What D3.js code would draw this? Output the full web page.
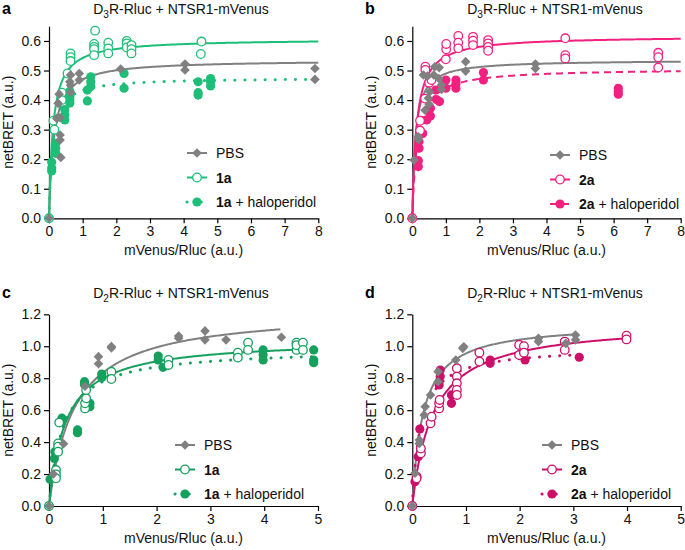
<!DOCTYPE html>
<html><head><meta charset="utf-8">
<script src="https://cdn.jsdelivr.net/npm/d3@7"></script>
<style>body{margin:0;background:#fff}svg{display:block}text{font-family:"Liberation Sans",Arial,sans-serif}</style>
</head><body><svg id="c" width="685" height="550"></svg>
<script>
// ---------- data ----------
const aPBS=[[0,0],[0.27,0.389],[0.30,0.42],[0.23,0.338],[0.33,0.34],[0.33,0.282],[0.33,0.265],[0.35,0.206],[0.62,0.462],[0.64,0.485],[0.64,0.426],[0.64,0.45],[0.9,0.49],[0.9,0.468],[2.13,0.505],[4.04,0.522],[4.04,0.502],[7.9,0.507],[7.9,0.47]];
const a1a=[[0,0],[0.13,0.33],[0.16,0.30],[0.38,0.425],[0.38,0.40],[0.55,0.49],[0.64,0.558],[0.64,0.545],[0.64,0.532],[1.34,0.59],[1.37,0.635],[1.34,0.58],[1.34,0.572],[1.34,0.552],[1.76,0.594],[1.76,0.575],[1.76,0.558],[2.31,0.6],[2.31,0.592],[2.31,0.578],[2.45,0.586],[2.45,0.572],[2.45,0.558],[4.53,0.598],[4.51,0.556]];
const aHalo=[[0,0],[0.08,0.19],[0.08,0.17],[0.08,0.16],[0.2,0.254],[0.2,0.237],[0.2,0.22],[0.47,0.368],[0.47,0.35],[0.47,0.333],[0.62,0.43],[0.62,0.412],[0.62,0.40],[0.62,0.39],[1.24,0.479],[1.24,0.462],[1.24,0.446],[1.14,0.434],[1.14,0.397],[2.23,0.49],[2.23,0.44],[4.43,0.462],[4.43,0.425],[4.43,0.417],[4.8,0.473],[4.8,0.462],[4.8,0.448]];
const bPBS=[[0,0],[0.05,0.197],[0.18,0.276],[0.18,0.267],[0.33,0.485],[0.38,0.366],[0.45,0.481],[0.48,0.406],[0.5,0.386],[0.52,0.428],[0.67,0.513],[0.64,0.485],[0.8,0.51],[0.79,0.473],[0.87,0.451],[0.87,0.436],[1.59,0.53],[1.59,0.498],[3.67,0.522],[3.67,0.507]];
const b2a=[[0,0],[0.23,0.33],[0.23,0.297],[0.38,0.405],[0.39,0.513],[0.39,0.502],[0.5,0.459],[0.57,0.468],[1,0.538],[1.01,0.572],[1.01,0.59],[1.37,0.617],[1.37,0.594],[1.37,0.575],[1.81,0.614],[1.81,0.601],[1.81,0.586],[2.26,0.603],[2.26,0.592],[2.26,0.58],[2.26,0.567],[4.56,0.609],[4.56,0.552],[4.56,0.541],[7.33,0.56],[7.33,0.545],[7.33,0.51]];
const bHalo=[[0,0],[0.18,0.195],[0.18,0.175],[0.2,0.237],[0.2,0.26],[0.31,0.287],[0.43,0.333],[0.45,0.366],[0.49,0.457],[0.54,0.346],[0.54,0.372],[0.7,0.434],[0.72,0.402],[0.81,0.395],[1,0.468],[1,0.44],[1.3,0.44],[1.3,0.454],[1.3,0.468],[2.12,0.493],[2.12,0.468],[6.14,0.44],[6.14,0.428],[6.14,0.42]];
const cPBS=[[0,0],[0.08,0.2],[0.27,0.39],[0.67,0.75],[0.92,0.935],[0.92,0.89],[1.16,0.998],[1.16,0.99],[2.41,1.064],[2.41,1.05],[2.9,1.096],[2.9,1.04],[3.29,1.04],[4.32,1.056]];
const c1a=[[0,0],[0.13,0.225],[0.13,0.198],[0.13,0.173],[0.17,0.392],[0.17,0.371],[0.17,0.34],[0.19,0.522],[0.67,0.611],[0.67,0.643],[0.69,0.674],[0.69,0.726],[1.16,0.84],[1.16,0.795],[2.22,0.914],[2.22,0.883],[3.51,0.96],[3.51,0.929],[3.7,1.022],[3.7,0.977],[4.6,1.022],[4.6,0.977],[4.6,1.007],[4.72,1.022],[4.72,0.977]];
const cHalo=[[0,0],[0.02,0.167],[0.1,0.298],[0.11,0.34],[0.24,0.55],[0.24,0.535],[0.53,0.476],[0.53,0.459],[0.66,0.778],[0.66,0.76],[0.76,0.643],[0.76,0.622],[0.98,0.826],[0.98,0.805],[2.03,0.939],[2.03,0.914],[2.12,0.868],[3.98,0.977],[3.98,0.945],[3.98,0.914],[4.92,0.977],[4.92,0.914],[4.92,0.897]];
const dPBS=[[0,0],[0.05,0.205],[0.13,0.392],[0.13,0.413],[0.22,0.57],[0.24,0.622],[0.34,0.695],[0.48,0.778],[0.48,0.841],[0.81,0.914],[0.96,0.997],[0.94,0.987],[2.35,1.05],[2.35,1.029],[2.86,1.018],[3.04,1.07],[3.04,1.04]];
const d2a=[[0,0],[0.08,0.184],[0.08,0.173],[0.16,0.33],[0.16,0.36],[0.34,0.518],[0.36,0.559],[0.5,0.611],[0.5,0.643],[0.51,0.664],[0.83,0.862],[0.83,0.81],[0.83,0.768],[0.83,0.726],[0.83,0.695],[1.25,0.96],[1.25,0.904],[1.99,1.008],[1.99,0.945],[2.08,1.0],[2.08,0.96],[2.84,1.029],[2.84,0.977],[3.99,1.066],[3.99,1.043]];
const dHalo=[[0,0],[0.05,0.152],[0.11,0.309],[0.14,0.482],[0.52,0.851],[0.52,0.81],[0.5,0.758],[0.73,0.695],[0.73,0.643],[1.45,0.914],[1.45,0.893],[2.1,0.914],[3.11,0.931]];
// fitted one-site curves: [Bmax, Kd, xEnd] for PBS, compound, compound+haloperidol
const aFit=[[0.536,0.141,8],[0.607,0.119,8],[0.476,0.10,8]];
const bFit=[[0.536,0.094,8],[0.617,0.127,8],[0.507,0.15,8]];
const cFit=[[1.227,0.471,4.3],[1.044,0.308,4.72],[0.985,0.264,4.95]];
const dFit=[[1.145,0.199,3.05],[1.151,0.386,4.0],[0.994,0.156,3.1]];
const xTicksA=[0,1,2,3,4,5,6,7,8], yTicksA=[0,0.1,0.2,0.3,0.4,0.5,0.6];
const xTicksC=[0,1,2,3,4,5], yTicksC=[0,0.2,0.4,0.6,0.8,1.0,1.2];
const compounds=["1a","2a","1a","2a"];
const letters=["a","b","c","d"];
const receptors=["3","3","2","2"];

// ---------- layout ----------
const svg=d3.select("#c");
const grey="#808080";
const panels=[
 {L:49,R:318.3,B:218.3,T:26.2,xd:8,yd:0.65,xt:xTicksA,yt:yTicksA,fit:aFit,data:[aPBS,a1a,aHalo],col:"#1dbf78",halo:"dot",lx:187,ly:153,letX:2,letY:14,titleX:181,titleY:14,yTitleX:13},
 {L:412.3,R:680.7,B:218.3,T:26.2,xd:8,yd:0.65,xt:xTicksA,yt:yTicksA,fit:bFit,data:[bPBS,b2a,bHalo],col:"#f2207f",halo:"dash",lx:550,ly:155,letX:365,letY:14,titleX:555,titleY:14,yTitleX:376},
 {L:49,R:318,B:506,T:314.3,xd:5,yd:1.2,xt:xTicksC,yt:yTicksC,fit:cFit,data:[cPBS,c1a,cHalo],col:"#15a05e",halo:"dot",lx:175,ly:445,letX:2,letY:298,titleX:181,titleY:298,yTitleX:13},
 {L:412.3,R:680.7,B:506,T:314.3,xd:5,yd:1.2,xt:xTicksC,yt:yTicksC,fit:dFit,data:[dPBS,d2a,dHalo],col:"#cc0f6a",halo:"dot",lx:542,ly:445,letX:365,letY:298,titleX:555,titleY:298,yTitleX:376}
];

function marker(g,kind,col,x,y){
  if(kind===0){
    const s=4.8;
    g.append("path").attr("d",`M${x},${y-s}L${x+s},${y}L${x},${y+s}L${x-s},${y}Z`).attr("fill",col);
  }else if(kind===1){
    g.append("circle").attr("cx",x).attr("cy",y).attr("r",4.3).attr("fill","#fff").attr("stroke",col).attr("stroke-width",1.3);
  }else{
    g.append("circle").attr("cx",x).attr("cy",y).attr("r",4.6).attr("fill",col);
  }
}
function styleLine(sel,kind,p){
  sel.attr("fill","none");
  if(kind===2){
    if(p.halo==="dash") sel.attr("stroke-width",2).attr("stroke-dasharray","7,5");
    else sel.attr("stroke-width",3).attr("stroke-dasharray","0.1,10").attr("stroke-linecap","round");
  } else sel.attr("stroke-width",2);
}

panels.forEach((p,i)=>{
  const g=svg.append("g");
  const x=d3.scaleLinear().domain([0,p.xd]).range([p.L,p.R]);
  const y=d3.scaleLinear().domain([0,p.yd]).range([p.B,p.T]);
  const cols=[grey,p.col,p.col];
  // axes
  const xa=g.append("g").attr("transform",`translate(0,${p.B})`)
    .call(d3.axisBottom(x).tickValues(p.xt).tickFormat(d3.format("d")).tickSize(5).tickPadding(3).tickSizeOuter(0));
  const ya=g.append("g").attr("transform",`translate(${p.L},0)`)
    .call(d3.axisLeft(y).tickValues(p.yt).tickFormat(d3.format(".1f")).tickSize(5).tickPadding(3).tickSizeOuter(0));
  [xa,ya].forEach(a=>{a.selectAll("path,line").attr("stroke","#000").attr("stroke-width",1.2);
    a.selectAll("text").attr("font-size",14).attr("fill","#111").style("font-family","'Liberation Sans',Arial,sans-serif");});
  // curves
  p.fit.forEach((f,k)=>{
    const pts=d3.range(0,201).map(j=>{const xv=f[2]*Math.pow(j/200,1.6);return [xv,f[0]*xv/(f[1]+xv)];});
    const path=g.append("path").datum(pts).attr("d",d3.line().x(d=>x(d[0])).y(d=>y(d[1]))).attr("stroke",cols[k]);
    styleLine(path,k,p);
  });
  // points
  [2,1,0].forEach(k=>{p.data[k].forEach(d=>marker(g,k,cols[k],x(d[0]),y(d[1])));});
  // labels
  g.append("text").attr("x",p.letX).attr("y",p.letY).attr("font-size",16).attr("font-weight","bold").text(letters[i]);
  const t=g.append("text").attr("x",p.titleX).attr("y",p.titleY).attr("text-anchor","middle").attr("font-size",14).attr("fill","#111");
  t.append("tspan").text("D");
  t.append("tspan").attr("font-size",10).attr("dy",4).text(receptors[i]);
  t.append("tspan").attr("dy",-4).text("R-Rluc + NTSR1-mVenus");
  g.append("text").attr("x",(p.L+p.R)/2).attr("y",p.B+37).attr("text-anchor","middle").attr("font-size",14).attr("fill","#111").text("mVenus/Rluc (a.u.)");
  g.append("text").attr("transform",`translate(${p.yTitleX},${(p.B+p.T)/2}) rotate(-90)`).attr("text-anchor","middle").attr("font-size",14).attr("fill","#111").text("netBRET (a.u.)");
  // legend
  const labels=[["PBS",""],[compounds[i],""],[compounds[i]," + haloperidol"]];
  labels.forEach((lb,k)=>{
    const yy=p.ly+k*24.5;
    const ln=g.append("line").attr("x1",p.lx).attr("x2",p.lx+20).attr("y1",yy).attr("y2",yy).attr("stroke",cols[k]);
    styleLine(ln,k,p);
    if(k===2&&p.halo==="dot") ln.attr("stroke-dasharray","0.1,7");
    marker(g,k,cols[k],p.lx+10,yy);
    const tx=g.append("text").attr("x",p.lx+29).attr("y",yy+5).attr("font-size",14).attr("fill","#111");
    if(k===0) tx.text(lb[0]);
    else {tx.append("tspan").attr("font-weight","bold").text(lb[0]); if(lb[1]) tx.append("tspan").text(lb[1]);}
  });
});
</script></body></html>
